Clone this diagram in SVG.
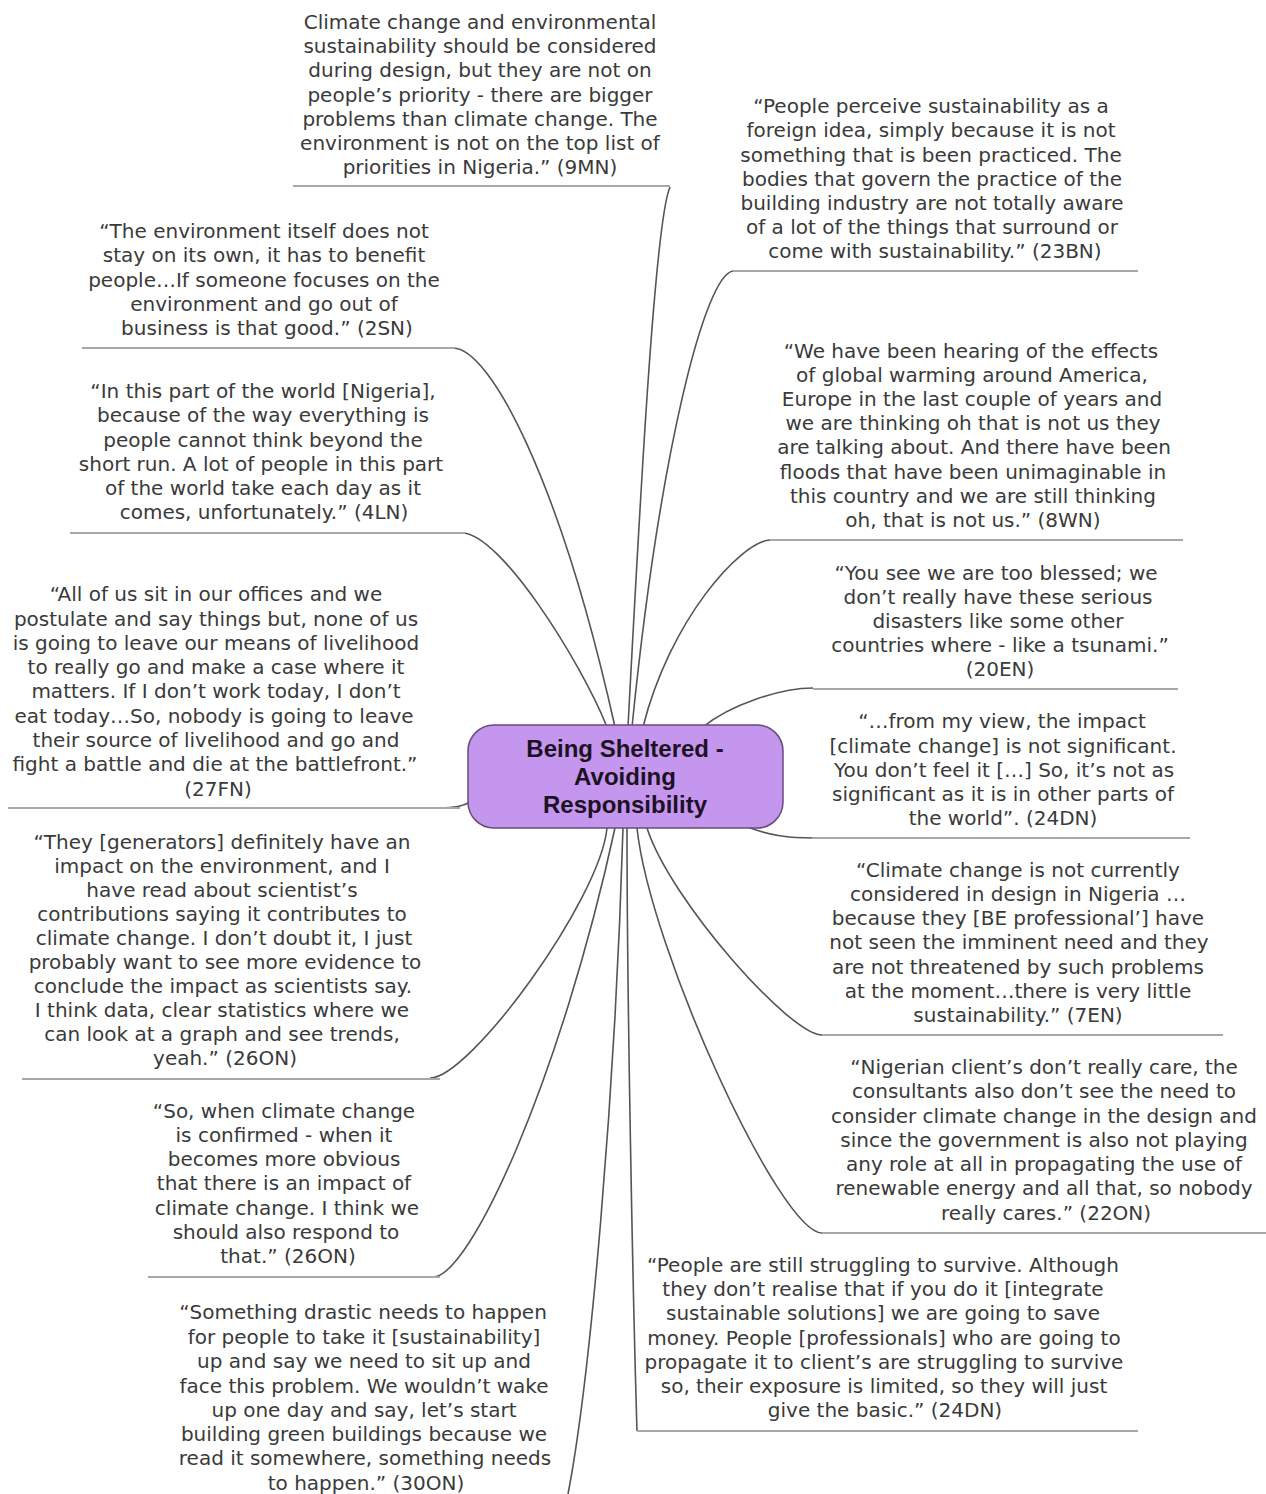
<svg xmlns="http://www.w3.org/2000/svg" width="1266" height="1494" viewBox="0 0 1266 1494">
<style>
.q{font-family:"DejaVu Sans",Verdana,sans-serif;font-size:20px;fill:#3a3a3a;text-anchor:middle}
.ul{stroke:#a8a8a8;stroke-width:2;fill:none}
.c{stroke:#555;stroke-width:1.6;fill:none}
.hub{fill:#C596EE;stroke:#6a4a7c;stroke-width:1.5}
.ht{font-family:"Liberation Sans",Arial,sans-serif;font-weight:bold;font-size:24px;fill:#1c1224;text-anchor:middle}
</style>
<rect width="1266" height="1494" fill="#fff"/>
<g id="connectors">
<path class="c" d="M670,187 C655,220 640,500 628,727"/>
<path class="c" d="M453,348 C490,348 560,480 615,727"/>
<path class="c" d="M462,533 C500,533 580,660 607,727"/>
<path class="c" d="M440,808 C455,808 464,806 470,802"/>
<path class="c" d="M430,1078 C470,1078 600,900 607,828"/>
<path class="c" d="M433,1277 C470,1277 560,1080 615,828"/>
<path class="c" d="M568,1494 C590,1380 615,1100 623,828"/>
<path class="c" d="M637,1431 C633,1300 627,1000 627,828"/>
<path class="c" d="M733,271 C705,275 660,450 632,727"/>
<path class="c" d="M770,540 C740,542 670,620 643,727"/>
<path class="c" d="M813,688 C780,688 730,705 703,727"/>
<path class="c" d="M745,826 C770,836 790,838 813,838"/>
<path class="c" d="M822,1035 C790,1035 670,900 647,828"/>
<path class="c" d="M822,1233 C780,1233 650,950 637,828"/>
</g>
<g id="hub">
<rect class="hub" x="468" y="725" width="315" height="103" rx="26"/>
<text class="ht"><tspan x="625" y="757">Being Sheltered -</tspan><tspan x="625" y="785">Avoiding</tspan><tspan x="625" y="813">Responsibility</tspan></text>
</g>
<g id="n-9MN">
<line class="ul" x1="293" y1="186" x2="670" y2="186"/>
<text class="q"><tspan x="480" y="29">Climate change and environmental</tspan><tspan x="480" y="53">sustainability should be considered</tspan><tspan x="480" y="77">during design, but they are not on</tspan><tspan x="480" y="102">people’s priority - there are bigger</tspan><tspan x="480" y="126">problems than climate change. The</tspan><tspan x="480" y="150">environment is not on the top list of</tspan><tspan x="480" y="174">priorities in Nigeria.” (9MN)</tspan></text>
</g>
<g id="n-2SN">
<line class="ul" x1="82" y1="348" x2="455" y2="348"/>
<text class="q"><tspan x="264" y="238">“The environment itself does not</tspan><tspan x="264" y="262">stay on its own, it has to benefit</tspan><tspan x="264" y="287">people…If someone focuses on the</tspan><tspan x="264" y="311">environment and go out of</tspan><tspan x="267" y="335">business is that good.” (2SN)</tspan></text>
</g>
<g id="n-4LN">
<line class="ul" x1="70" y1="533" x2="465" y2="533"/>
<text class="q"><tspan x="263" y="398">“In this part of the world [Nigeria],</tspan><tspan x="263" y="422">because of the way everything is</tspan><tspan x="263" y="447">people cannot think beyond the</tspan><tspan x="261" y="471">short run. A lot of people in this part</tspan><tspan x="263" y="495">of the world take each day as it</tspan><tspan x="264" y="519">comes, unfortunately.” (4LN)</tspan></text>
</g>
<g id="n-27FN">
<line class="ul" x1="8" y1="808" x2="460" y2="808"/>
<text class="q"><tspan x="216" y="601">“All of us sit in our offices and we</tspan><tspan x="216" y="626">postulate and say things but, none of us</tspan><tspan x="216" y="650">is going to leave our means of livelihood</tspan><tspan x="216" y="674">to really go and make a case where it</tspan><tspan x="216" y="698">matters. If I don’t work today, I don’t</tspan><tspan x="214" y="723">eat today…So, nobody is going to leave</tspan><tspan x="216" y="747">their source of livelihood and go and</tspan><tspan x="215" y="771">fight a battle and die at the battlefront.”</tspan><tspan x="218" y="796">(27FN)</tspan></text>
</g>
<g id="n-26ON-a">
<line class="ul" x1="22" y1="1079" x2="440" y2="1079"/>
<text class="q"><tspan x="222" y="849">“They [generators] definitely have an</tspan><tspan x="222" y="873">impact on the environment, and I</tspan><tspan x="222" y="897">have read about scientist’s</tspan><tspan x="222" y="921">contributions saying it contributes to</tspan><tspan x="224" y="945">climate change. I don’t doubt it, I just</tspan><tspan x="225" y="969">probably want to see more evidence to</tspan><tspan x="223" y="993">conclude the impact as scientists say.</tspan><tspan x="222" y="1017">I think data, clear statistics where we</tspan><tspan x="222" y="1041">can look at a graph and see trends,</tspan><tspan x="225" y="1065">yeah.” (26ON)</tspan></text>
</g>
<g id="n-26ON-b">
<line class="ul" x1="148" y1="1277" x2="440" y2="1277"/>
<text class="q"><tspan x="284" y="1118">“So, when climate change</tspan><tspan x="284" y="1142">is confirmed - when it</tspan><tspan x="284" y="1166">becomes more obvious</tspan><tspan x="284" y="1190">that there is an impact of</tspan><tspan x="287" y="1215">climate change. I think we</tspan><tspan x="286" y="1239">should also respond to</tspan><tspan x="288" y="1263">that.” (26ON)</tspan></text>
</g>
<g id="n-30ON">
<text class="q"><tspan x="363" y="1319">“Something drastic needs to happen</tspan><tspan x="364" y="1344">for people to take it [sustainability]</tspan><tspan x="364" y="1368">up and say we need to sit up and</tspan><tspan x="364" y="1393">face this problem. We wouldn’t wake</tspan><tspan x="364" y="1417">up one day and say, let’s start</tspan><tspan x="364" y="1441">building green buildings because we</tspan><tspan x="365" y="1465">read it somewhere, something needs</tspan><tspan x="366" y="1490">to happen.” (30ON)</tspan></text>
</g>
<g id="n-23BN">
<line class="ul" x1="733" y1="271" x2="1138" y2="271"/>
<text class="q"><tspan x="931" y="113">“People perceive sustainability as a</tspan><tspan x="931" y="137">foreign idea, simply because it is not</tspan><tspan x="931" y="162">something that is been practiced. The</tspan><tspan x="932" y="186">bodies that govern the practice of the</tspan><tspan x="932" y="210">building industry are not totally aware</tspan><tspan x="932" y="234">of a lot of the things that surround or</tspan><tspan x="935" y="258">come with sustainability.” (23BN)</tspan></text>
</g>
<g id="n-8WN">
<line class="ul" x1="770" y1="540" x2="1183" y2="540"/>
<text class="q"><tspan x="971" y="358">“We have been hearing of the effects</tspan><tspan x="972" y="382">of global warming around America,</tspan><tspan x="972" y="406">Europe in the last couple of years and</tspan><tspan x="973" y="430">we are thinking oh that is not us they</tspan><tspan x="974" y="454">are talking about. And there have been</tspan><tspan x="973" y="479">floods that have been unimaginable in</tspan><tspan x="973" y="503">this country and we are still thinking</tspan><tspan x="973" y="527">oh, that is not us.” (8WN)</tspan></text>
</g>
<g id="n-20EN">
<line class="ul" x1="813" y1="689" x2="1178" y2="689"/>
<text class="q"><tspan x="996" y="580">“You see we are too blessed; we</tspan><tspan x="998" y="604">don’t really have these serious</tspan><tspan x="998" y="628">disasters like some other</tspan><tspan x="1000" y="652">countries where - like a tsunami.”</tspan><tspan x="1000" y="676">(20EN)</tspan></text>
</g>
<g id="n-24DN-a">
<line class="ul" x1="812" y1="838" x2="1190" y2="838"/>
<text class="q"><tspan x="1002" y="728">“…from my view, the impact</tspan><tspan x="1003" y="753">[climate change] is not significant.</tspan><tspan x="1004" y="777">You don’t feel it […]  So, it’s not as</tspan><tspan x="1003" y="801">significant as it is in other parts of</tspan><tspan x="1003" y="825">the world”. (24DN)</tspan></text>
</g>
<g id="n-7EN">
<line class="ul" x1="822" y1="1035" x2="1223" y2="1035"/>
<text class="q"><tspan x="1018" y="877">“Climate change is not currently</tspan><tspan x="1018" y="901">considered in design in Nigeria …</tspan><tspan x="1018" y="925">because they [BE professional’] have</tspan><tspan x="1019" y="949">not seen the imminent need and they</tspan><tspan x="1018" y="974">are not threatened by such problems</tspan><tspan x="1018" y="998">at the moment…there is very little</tspan><tspan x="1018" y="1022">sustainability.” (7EN)</tspan></text>
</g>
<g id="n-22ON">
<line class="ul" x1="822" y1="1233" x2="1266" y2="1233"/>
<text class="q"><tspan x="1044" y="1074">“Nigerian client’s don’t really care, the</tspan><tspan x="1044" y="1098">consultants also don’t see the need to</tspan><tspan x="1044" y="1123">consider climate change in the design and</tspan><tspan x="1044" y="1147">since the government is also not playing</tspan><tspan x="1044" y="1171">any role at all in propagating the use of</tspan><tspan x="1044" y="1195">renewable energy and all that, so nobody</tspan><tspan x="1046" y="1220">really cares.” (22ON)</tspan></text>
</g>
<g id="n-24DN-b">
<line class="ul" x1="637" y1="1431" x2="1138" y2="1431"/>
<text class="q"><tspan x="883" y="1272">“People are still struggling to survive. Although</tspan><tspan x="883" y="1296">they don’t realise that if you do it [integrate</tspan><tspan x="883" y="1320">sustainable solutions] we are going to save</tspan><tspan x="884" y="1345">money. People [professionals] who are going to</tspan><tspan x="884" y="1369">propagate it to client’s are struggling to survive</tspan><tspan x="884" y="1393">so, their exposure is limited, so they will just</tspan><tspan x="885" y="1417">give the basic.” (24DN)</tspan></text>
</g>
</svg>
